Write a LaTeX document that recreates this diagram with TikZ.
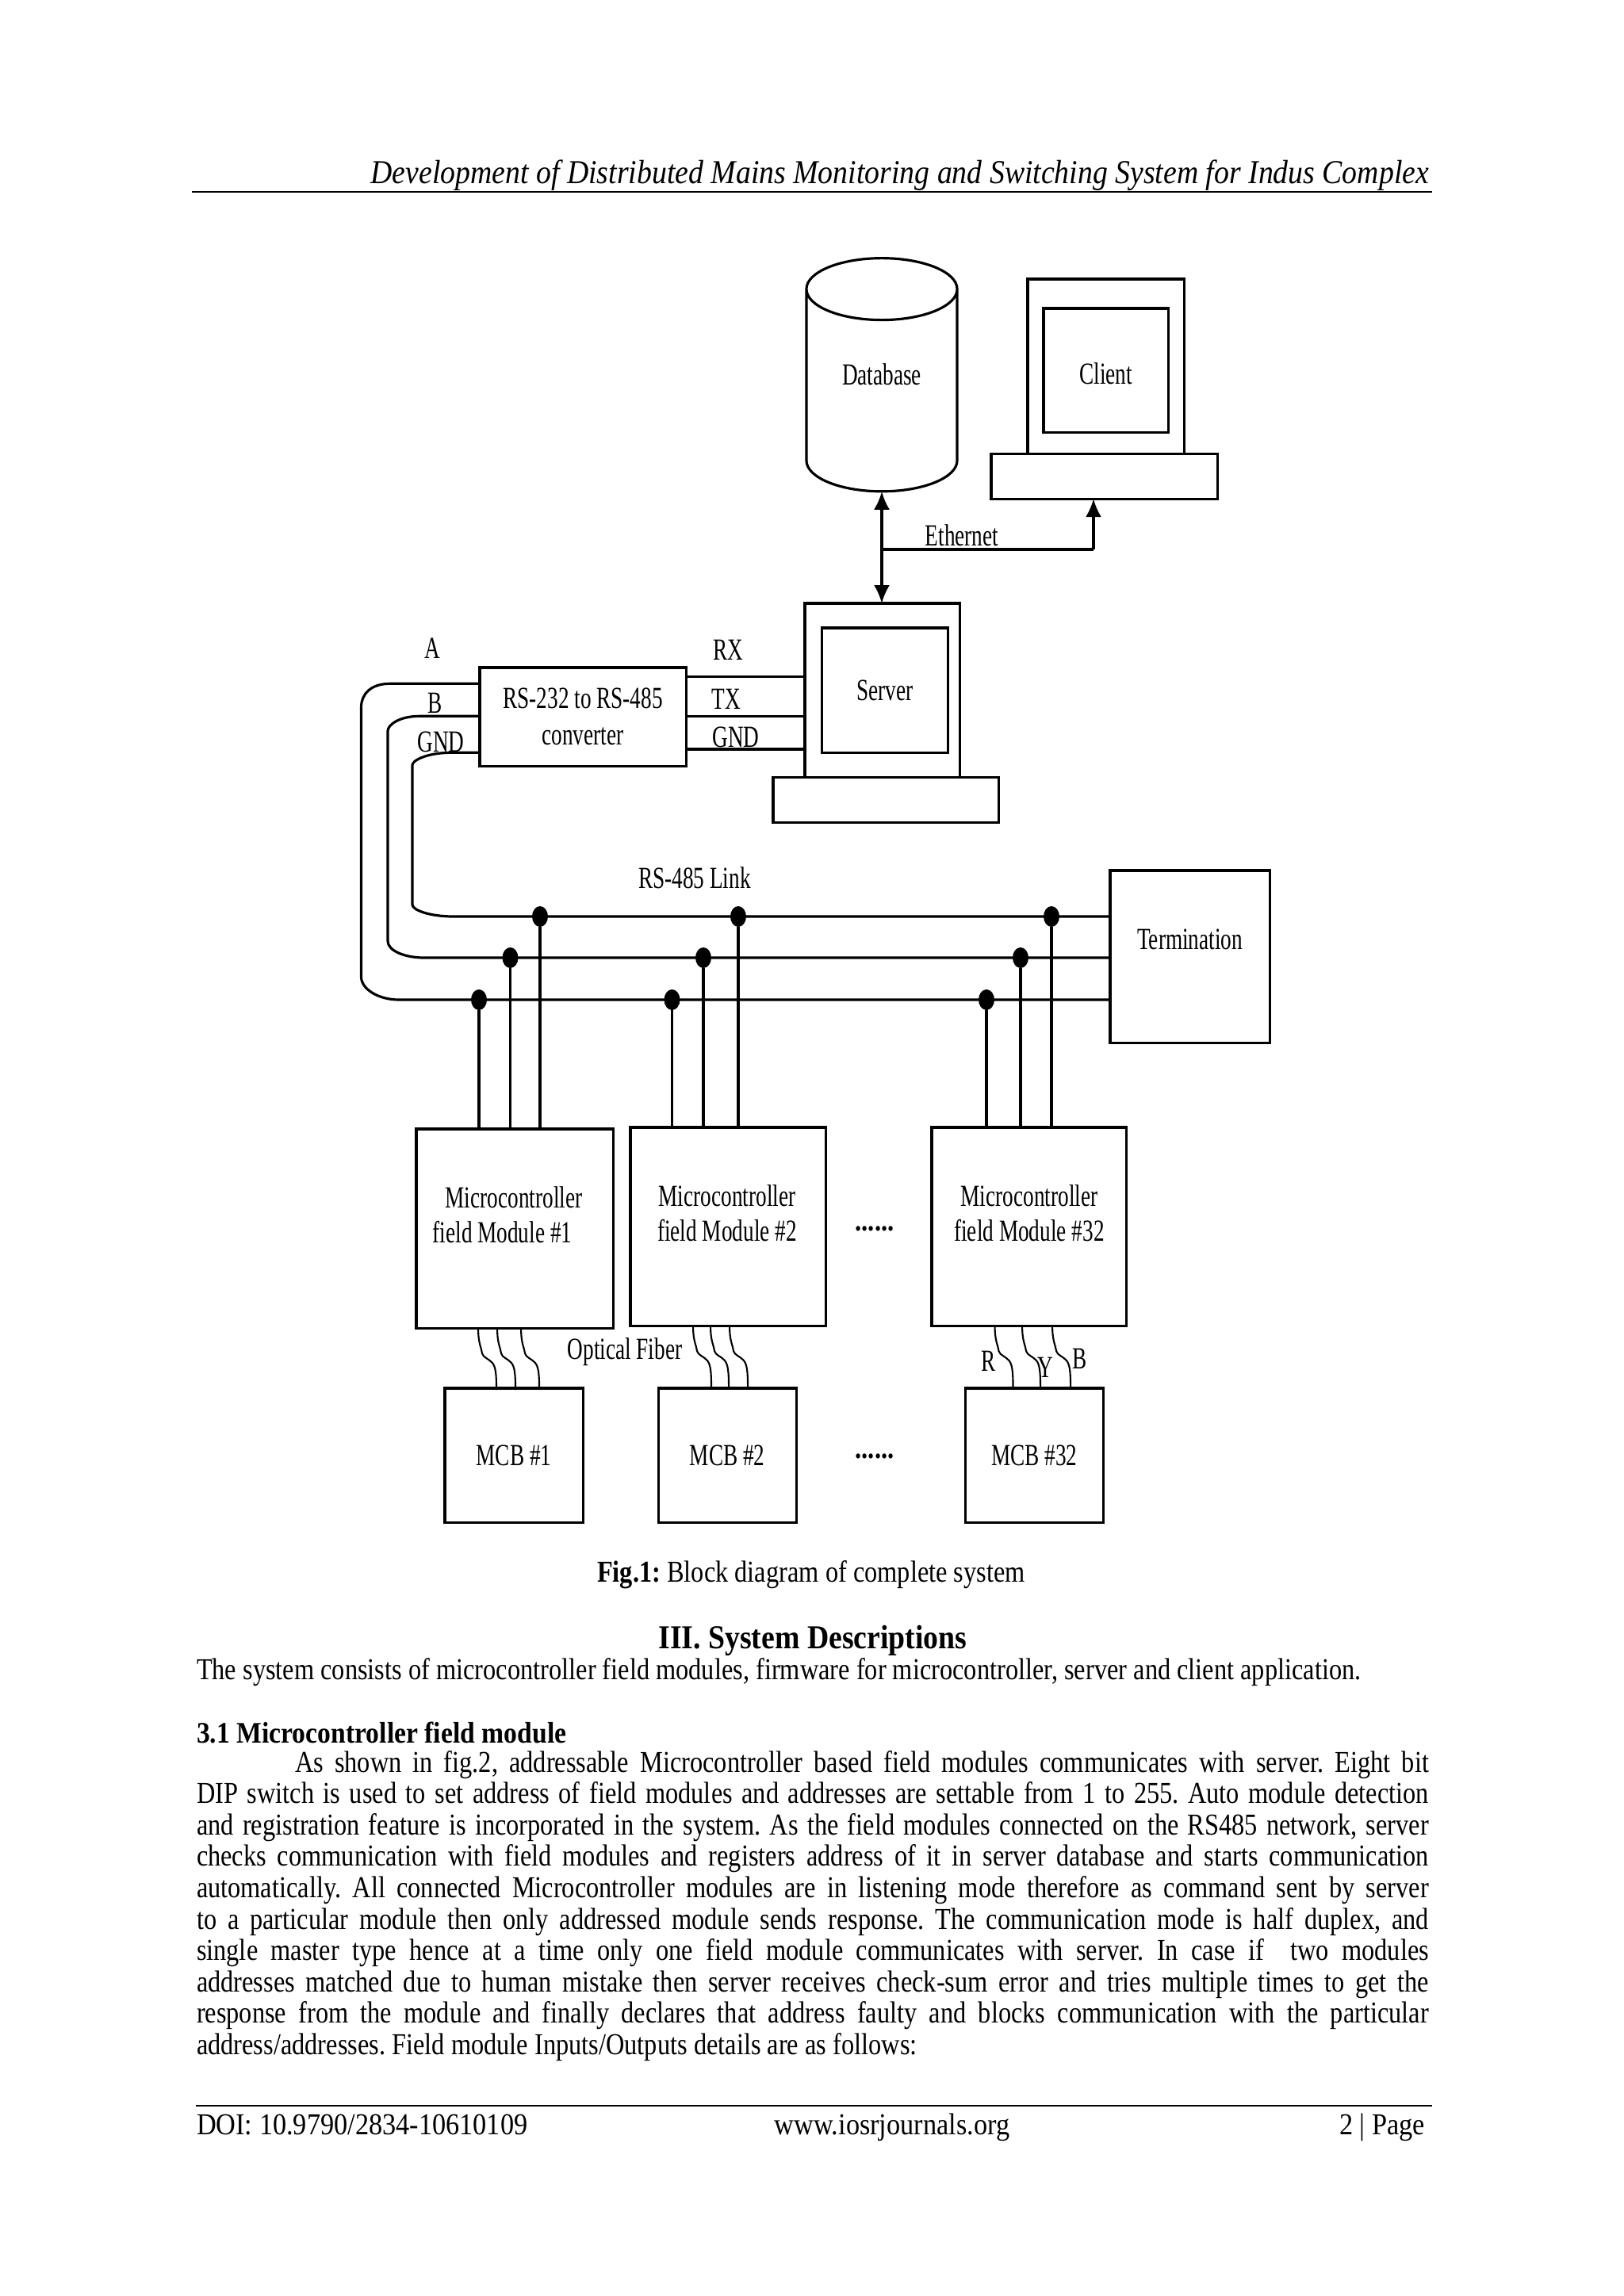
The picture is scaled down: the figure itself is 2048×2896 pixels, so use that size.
\documentclass[tikz,border=0pt]{standalone}
\usepackage{fontspec}
\setmainfont[FakeStretch=0.845]{Liberation Serif}
\newfontfamily\widefont[FakeStretch=0.895]{Liberation Serif}
\newfontfamily\diafont[FakeStretch=0.705]{Liberation Serif}
\frenchspacing
\usetikzlibrary{positioning,arrows.meta,calc,shapes.geometric}
\tikzset{
  blk/.style={rectangle, draw=black, line width=0.9pt, inner sep=0pt, outer sep=0pt,
              align=center, font=\diafont\fontsize{11}{12.5}\selectfont},
  dbase/.style={cylinder, shape border rotate=90, aspect=0.78, draw=black, line width=0.9pt,
                minimum height=29.4mm, minimum width=19mm, inner sep=0pt, outer sep=0pt,
                font=\diafont\fontsize{11}{12.5}\selectfont},
  lbl/.style={inner sep=0pt, align=center, font=\diafont\fontsize{11}{12.5}\selectfont},
  wire/.style={draw=black, line width=0.9pt},
  fiber/.style={draw=black, line width=0.6pt},
  flow/.style={-{Latex[length=2.3mm,width=2mm]}, draw=black, line width=0.9pt},
  biflow/.style={{Latex[length=2.3mm,width=2mm]}-{Latex[length=2.3mm,width=2mm]}, draw=black, line width=0.9pt},
  tap/.style={ellipse, fill=black, minimum width=2mm, minimum height=2.6mm, inner sep=0pt, outer sep=0pt},
  rule/.style={draw=black, line width=0.5pt},
  txt/.style={inner sep=0pt, outer sep=0pt, font=\fontsize{10.9}{11.26}\selectfont},
  wtxt/.style={txt, font=\widefont\fontsize{10.9}{11.26}\selectfont},
}
\newcommand{\Block}[5][]{%
  \node[blk,minimum width=#3mm,minimum height=#4mm,#1] (#2) {#5};}
\newcommand{\Fiber}[2]{% {top box}{offset from its left edge, in mm}
  \draw[fiber] ([xshift=#2mm]#1.south west) .. controls +(0,20) and +(-1,-8) .. ++(5,32)
       .. controls +(1,5) and +(-4,-5) .. ++(13,12)
       .. controls +(4,5) and +(0,-20) .. ++(5,34);}

\begin{document}
\begin{tikzpicture}[x=0.01cm,y=-0.01cm]
  \path[use as bounding box, fill=white] (0,0) rectangle (2048,2896);

  % ===== Page header ====================================================
  \node[wtxt,anchor=base east] (head) at (1802,231) {\itshape\fontsize{12}{12}\selectfont
    Development of Distributed Mains Monitoring and Switching System for Indus Complex};
  \draw[rule] (242,242) -- (1806,242);

  % ===== Database and client (top) ======================================
  \node[dbase] (db) at (1112,493) {\raisebox{2.1mm}[\height][\depth]{Database}};
  \Block[anchor=north west,at={(1296,352)}]{clcase}{19.7}{22}{}
  \Block[below=3.7mm of clcase.north]{client}{15.7}{15.6}{\raisebox{-0.4mm}[\height][\depth]{Client}}
  \Block[below=0mm of clcase.south,xshift=-0.2mm]{clkbd}{28.5}{5.7}{}

  % ===== Server and converter (middle) ==================================
  \Block[anchor=north west,at={(1015,761)}]{srvcase}{19.5}{21.9}{}
  \Block[below=3.1mm of srvcase.north,xshift=0.35mm]{server}{15.85}{15.75}{Server}
  \Block[below=0mm of srvcase.south,xshift=0.45mm]{srvkbd}{28.4}{5.7}{}
  \Block[anchor=north west,at={(605,842)}]{conv}{26}{12.45}{RS-232 to RS-485\\[0.2mm]converter}
  \Block[anchor=north west,at={(1400,1098)}]{term}{20.1}{21.7}{Termination\\\mbox{}}

  % ===== Field modules and breakers (bottom) ============================
  \Block[anchor=north west,at={(525,1424)}]{mod1}{24.8}{25.1}{}
  \Block[anchor=north west,at={(795,1422)}]{mod2}{24.6}{25}{}
  \Block[anchor=north west,at={(1175,1422)}]{mod3}{24.5}{25}{}
  \Block[anchor=north west,at={(561,1751)}]{mcb1}{17.4}{16.9}{MCB \#1}
  \Block[right=9.5mm of mcb1]{mcb2}{17.4}{16.9}{MCB \#2}
  \Block[right=21.3mm of mcb2]{mcb3}{17.4}{16.9}{MCB \#32}
  \node[lbl,align=left] (mod1txt) at (640,1532) {\hspace*{1.6mm}Microcontroller\\field Module \#1};
  \node[lbl] (mod2txt) at (917,1530) {Microcontroller\\field Module \#2};
  \node[lbl] (mod3txt) at (1298,1530) {Microcontroller\\field Module \#32};
  \node[lbl] (dotsa) at (1103,1550) {\normalfont\bfseries ......};
  \node[lbl] (dotsb) at (1103,1837) {\normalfont\bfseries ......};

  % ===== Labels on the links ============================================
  \node[lbl] (ethlbl) at (1213,675) {Ethernet};
  \node[lbl] (lbla) at (545,818) {A};
  \node[lbl] (lblb) at (549,887) {B};
  \node[lbl] (lblg) at (556,936) {GND};
  \node[lbl] (lblrx) at (918,820) {RX};
  \node[lbl] (lbltx) at (916,882) {TX};
  \node[lbl] (lblgr) at (928,930) {GND};
  \node[lbl] (lbllink) at (876,1107) {RS-485 Link};
  \node[lbl] (lblopt) at (788,1705) {Optical Fiber};
  \node[lbl] (lblr) at (1247,1717) {R};
  \node[lbl] (lbly) at (1318,1725) {Y};
  \node[lbl] (lblbb) at (1362,1714) {B};

  % ===== Ethernet links =================================================
  \coordinate (eth) at (1379,693);
  \draw[biflow] (db.south) -- (db.south |- srvcase.north);
  \draw[wire] (db.south |- eth) -- (eth);
  \draw[flow] (eth) -- (eth |- clkbd.south);

  % ===== Serial lines, converter to server ==============================
  \draw[wire] ([yshift=5.08mm]conv.east) -- ([yshift=5.08mm]conv.east -| srvcase.west);
  \draw[wire] ([yshift=0.12mm]conv.east) -- ([yshift=0.12mm]conv.east -| srvcase.west);
  \draw[wire] ([yshift=-4.07mm]conv.east) -- ([yshift=-4.07mm]conv.east -| srvcase.west);

  % ===== RS-485 bus, three lines round the left side ====================
  \coordinate (busa) at (503,1261);
  \coordinate (busb) at (535,1208);
  \coordinate (busg) at (572,1156);
  \draw[wire] ([yshift=4.2mm]conv.west) -- ++(-113,0) .. controls +(-25,0) and +(0,-16) .. (455.5,892)
       -- (455.5,1232) .. controls +(0,16) and +(-25,0) .. (busa) -- (busa -| term.west);
  \draw[wire] ([yshift=0.1mm]conv.west) -- ++(-76,0) .. controls +(-25,0) and +(0,-8) .. (489,922)
       -- (489,1187) .. controls +(0,12) and +(-25,0) .. (busb) -- (busb -| term.west);
  \draw[wire] ([yshift=-4.5mm]conv.west) -- ++(-36,0) .. controls +(-30,0) and +(0,-6) .. (520,965)
       -- (520,1141) .. controls +(0,7) and +(-30,0) .. (busg) -- (busg -| term.west);

  % ===== Taps on the bus ================================================
  \node[tap] (tapa1) at (604,1261) {};
  \node[tap] (tapb1) at (643.5,1208) {};
  \node[tap] (tapg1) at (681,1156) {};
  \node[tap] (tapa2) at (847.5,1261) {};
  \node[tap] (tapb2) at (887,1208) {};
  \node[tap] (tapg2) at (931,1156) {};
  \node[tap] (tapa3) at (1244,1261) {};
  \node[tap] (tapb3) at (1287,1208) {};
  \node[tap] (tapg3) at (1326,1156) {};
  \draw[wire] (tapa1) -- (tapa1 |- mod1.north);
  \draw[wire] (tapb1) -- (tapb1 |- mod1.north);
  \draw[wire] (tapg1) -- (tapg1 |- mod1.north);
  \draw[wire] (tapa2) -- (tapa2 |- mod2.north);
  \draw[wire] (tapb2) -- (tapb2 |- mod2.north);
  \draw[wire] (tapg2) -- (tapg2 |- mod2.north);
  \draw[wire] (tapa3) -- (tapa3 |- mod3.north);
  \draw[wire] (tapb3) -- (tapb3 |- mod3.north);
  \draw[wire] (tapg3) -- (tapg3 |- mod3.north);

  % ===== Optical fibers, module to breaker ==============================
  \Fiber{mod1}{7.8}
  \Fiber{mod1}{10.2}
  \Fiber{mod1}{13.2}
  \Fiber{mod2}{7.9}
  \Fiber{mod2}{10.1}
  \Fiber{mod2}{12.5}
  \Fiber{mod3}{7.95}
  \Fiber{mod3}{11.4}
  \Fiber{mod3}{15.2}

  % ===== Caption and body text ==========================================
  \node[txt] (caption) at (1023,1986) {\textbf{Fig.1:} Block diagram of complete system};
  \node[wtxt] (sechead) at (1025,2069) {\bfseries\fontsize{12}{12}\selectfont III. System Descriptions};
  \node[txt,anchor=base west] (intro) at (248,2118) {The system consists of microcontroller field modules, firmware for microcontroller, server and client application.};
  \node[wtxt,anchor=base west] (subhead) at (248,2198) {\fontsize{10.7}{11.26}\selectfont\textbf{3.1 Microcontroller field module}};
  \node[txt,anchor=north west,text width=15.53cm,align=justify] (body) at (248,2208) {%
    \hyphenpenalty=10000\tolerance=9999\emergencystretch=5mm
    \hspace*{12.4mm}As shown in fig.2, addressable Microcontroller based field modules communicates with server. Eight bit\linebreak
    DIP switch is used to set address of field modules and addresses are settable from 1 to 255. Auto module detection\linebreak
    and registration feature is incorporated in the system. As the field modules connected on the RS485 network, server\linebreak
    checks communication with field modules and registers address of it in server database and starts communication\linebreak
    automatically. All connected Microcontroller modules are in listening mode therefore as command sent by server\linebreak
    to a particular module then only addressed module sends response. The communication mode is half duplex, and\linebreak
    single master type hence at a time only one field module communicates with server. In case if\ \ two modules\linebreak
    addresses matched due to human mistake then server receives check-sum error and tries multiple times to get the\linebreak
    response from the module and finally declares that address faulty and blocks communication with the particular\linebreak
    address/addresses. Field module Inputs/Outputs details are as follows:};

  % ===== Page footer ====================================================
  \draw[rule] (247,2656) -- (1806,2656);
  \node[wtxt,anchor=base west] (doi) at (248,2692) {DOI: 10.9790/2834-10610109};
  \node[wtxt,anchor=base] (site) at (1125,2692) {www.iosrjournals.org};
  \node[wtxt,anchor=base east] (pagenum) at (1797,2692) {2 | Page};
\end{tikzpicture}
\end{document}
